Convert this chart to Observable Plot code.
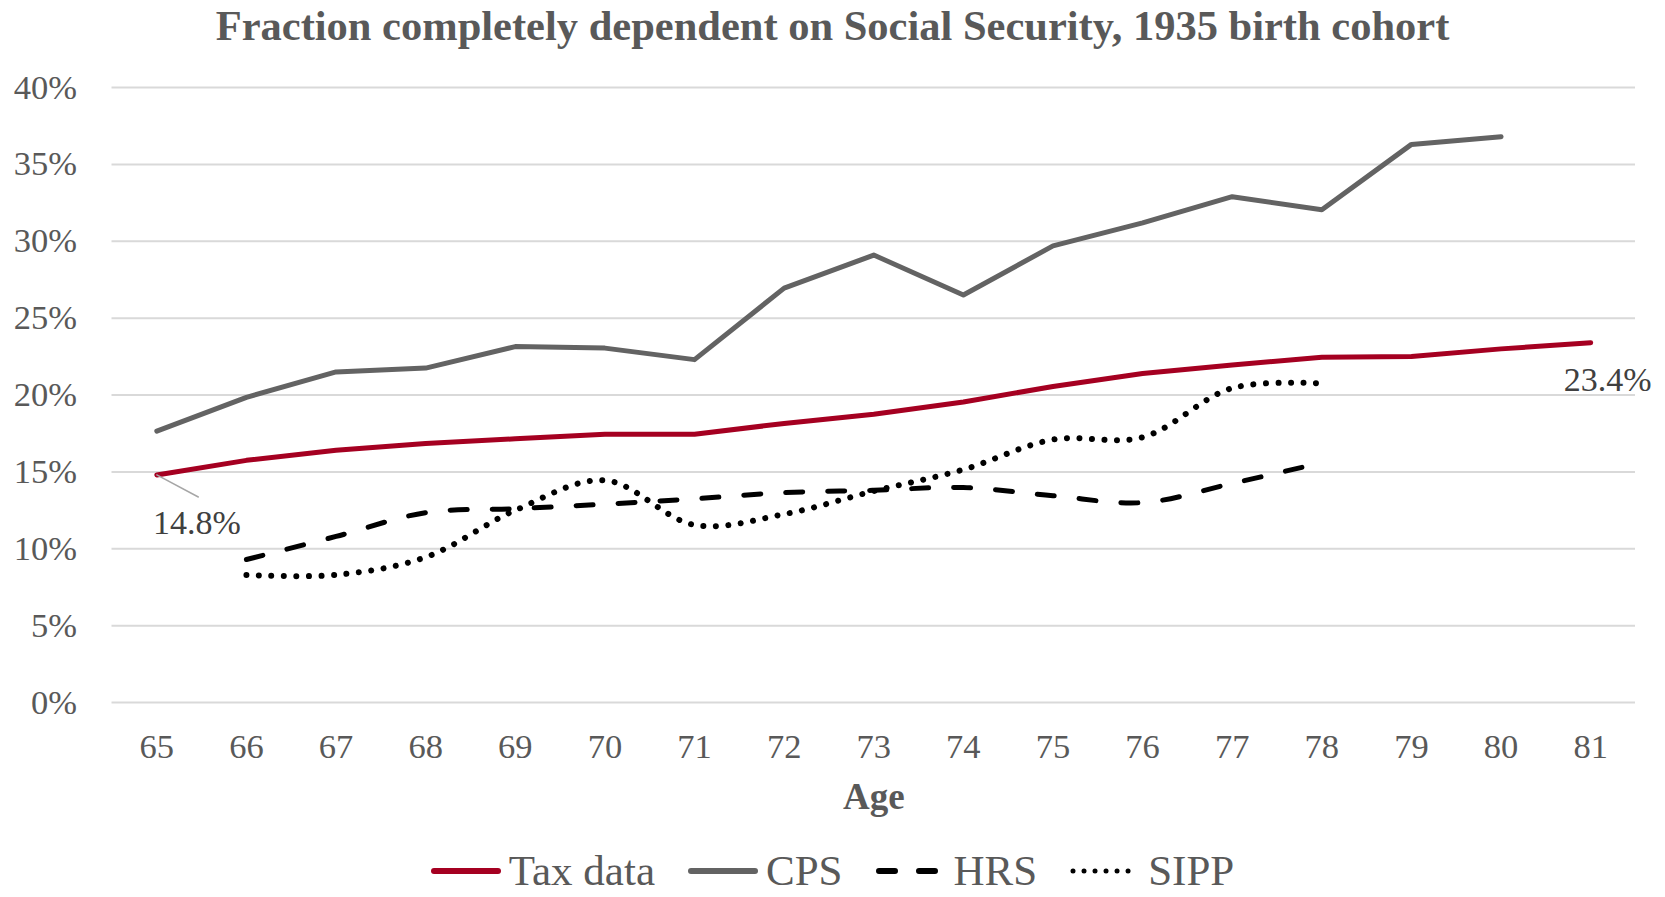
<!DOCTYPE html>
<html>
<head>
<meta charset="utf-8">
<script src="https://cdn.jsdelivr.net/npm/d3@7"></script>
<script src="https://cdn.jsdelivr.net/npm/@observablehq/plot@0.6"></script>
<style>
  html, body { margin: 0; padding: 0; background: #fff; }
  body { width: 1665px; height: 897px; position: relative; overflow: hidden;
         font-family: "Liberation Serif", "Times New Roman", serif; color: #595959; }
  #title { position: absolute; top: 0; left: 0; width: 1665px; height: 52px; line-height: 52px;
           text-align: center; font-weight: bold; font-size: 42.5px; color: #595959; }
  #chart { position: absolute; top: 52px; left: 0; }
  #chart g[aria-label="x-axis label"] text { font-weight: bold; font-size: 37px; }
  #legend { position: absolute; top: 852px; left: 0; width: 1665px; height: 38px; line-height: 38px;
            display: flex; justify-content: center; align-items: center; font-size: 43px; color: #595959; }
  .item { display: flex; align-items: center; margin: 0 16.5px; }
  .item svg { margin-right: 8px; }
</style>
</head>
<body>
<div id="title">Fraction completely dependent on Social Security, 1935 birth cohort</div>
<div id="chart"></div>
<div id="legend"></div>
<script>
// Ages on the x axis
const ages = [65, 66, 67, 68, 69, 70, 71, 72, 73, 74, 75, 76, 77, 78, 79, 80, 81];
// Tax data, ages 65–81 (percent)
const taxData = [14.8, 15.75, 16.4, 16.85, 17.15, 17.45, 17.45, 18.15, 18.75, 19.55, 20.55, 21.4, 21.95, 22.45, 22.5, 23.0, 23.4];
// CPS, ages 65–80
const cpsAges = [65, 66, 67, 68, 69, 70, 71, 72, 73, 74, 75, 76, 77, 78, 79, 80];
const cps = [17.65, 19.85, 21.5, 21.75, 23.15, 23.05, 22.3, 26.95, 29.1, 26.5, 29.7, 31.2, 32.9, 32.05, 36.3, 36.8];
// HRS and SIPP, ages 66–78
const surveyAges = [66, 67, 68, 69, 70, 71, 72, 73, 74, 75, 76, 77, 78];
const hrs = [9.3, 10.8, 12.35, 12.6, 12.9, 13.25, 13.65, 13.8, 13.98, 13.45, 13.0, 14.25, 15.6];
const sipp = [8.3, 8.3, 9.45, 12.5, 14.45, 11.55, 12.25, 13.75, 15.15, 17.1, 17.25, 20.45, 20.75];
// Y axis ticks (percent)
const yTicks = [0, 5, 10, 15, 20, 25, 30, 35, 40];

const series = [
  {name: "Tax data", color: "#A50021", dash: null, curve: "linear", ages: ages, values: taxData},
  {name: "CPS", color: "#636363", dash: null, curve: "linear", ages: cpsAges, values: cps},
  {name: "HRS", color: "#000000", dash: "17,25", curve: "catmull-rom", ages: surveyAges, values: hrs},
  {name: "SIPP", color: "#000000", dash: "0.01,12.5", curve: "catmull-rom", ages: surveyAges, values: sipp}
];

const rows = s => s.ages.map((a, i) => ({age: a, value: s.values[i]}));

const firstTax = {age: ages[0], value: taxData[0]};
const lastTax = {age: ages[ages.length - 1], value: taxData[taxData.length - 1]};

// Straight leader from the 65 point toward its label
const leader = {draw(context, l) { context.moveTo(0, 0); context.lineTo(0, -l); }};

const chart = Plot.plot({
  width: 1665,
  height: 780,
  marginTop: 35,
  marginBottom: 130,
  marginLeft: 111.5,
  marginRight: 30,
  style: {fontFamily: "'Liberation Serif', 'Times New Roman', serif", color: "#595959", background: "#fff", overflow: "visible"},
  x: {type: "linear", domain: [64.5, 81.5]},
  y: {domain: [0, 40]},
  marks: [
    Plot.gridY(yTicks, {stroke: "#d9d9d9", strokeOpacity: 1, strokeWidth: 2}),
    Plot.axisY(yTicks, {tickSize: 0, tickPadding: 35, fontSize: 34.5, tickFormat: d => `${d}%`, label: null}),
    Plot.axisX(ages, {tickSize: 0, tickPadding: 31, fontSize: 34.5, tickFormat: d => String(d),
      label: "Age", labelAnchor: "center", labelOffset: 106, labelArrow: "none"}),
    ...series.map(s => Plot.line(rows(s), {
      x: "age", y: "value", stroke: s.color, strokeWidth: s.dash && s.dash.startsWith("0") ? 6 : 5,
      strokeDasharray: s.dash || undefined, strokeLinecap: "round", strokeLinejoin: "round", curve: s.curve
    })),
    Plot.vector([firstTax], {x: "age", y: "value", length: 47, rotate: 118, anchor: "start",
      shape: leader, stroke: "#a6a6a6", strokeWidth: 1.5}),
    Plot.text([firstTax], {x: "age", y: "value", text: d => `${d.value}%`, dx: 40, dy: 48, fontSize: 34, fill: "#404040"}),
    Plot.text([lastTax], {x: "age", y: "value", text: d => `${d.value}%`, dx: 17, dy: 37, fontSize: 34, fill: "#404040"})
  ]
});
document.getElementById("chart").appendChild(chart);

// Legend
const legend = document.getElementById("legend");
for (const s of series) {
  const item = document.createElement("div");
  item.className = "item";
  const sw = d3.create("svg").attr("width", 70).attr("height", 14);
  sw.append("line").attr("x1", 3).attr("x2", 67).attr("y1", 7).attr("y2", 7)
    .attr("stroke", s.color).attr("stroke-width", s.dash && s.dash.startsWith("0") ? 5 : 6)
    .attr("stroke-linecap", "round")
    .attr("stroke-dasharray", s.dash ? (s.dash.startsWith("0") ? "0.01,11" : "16,24") : null);
  item.appendChild(sw.node());
  const label = document.createElement("span");
  label.textContent = s.name;
  item.appendChild(label);
  legend.appendChild(item);
}
</script>
</body>
</html>
